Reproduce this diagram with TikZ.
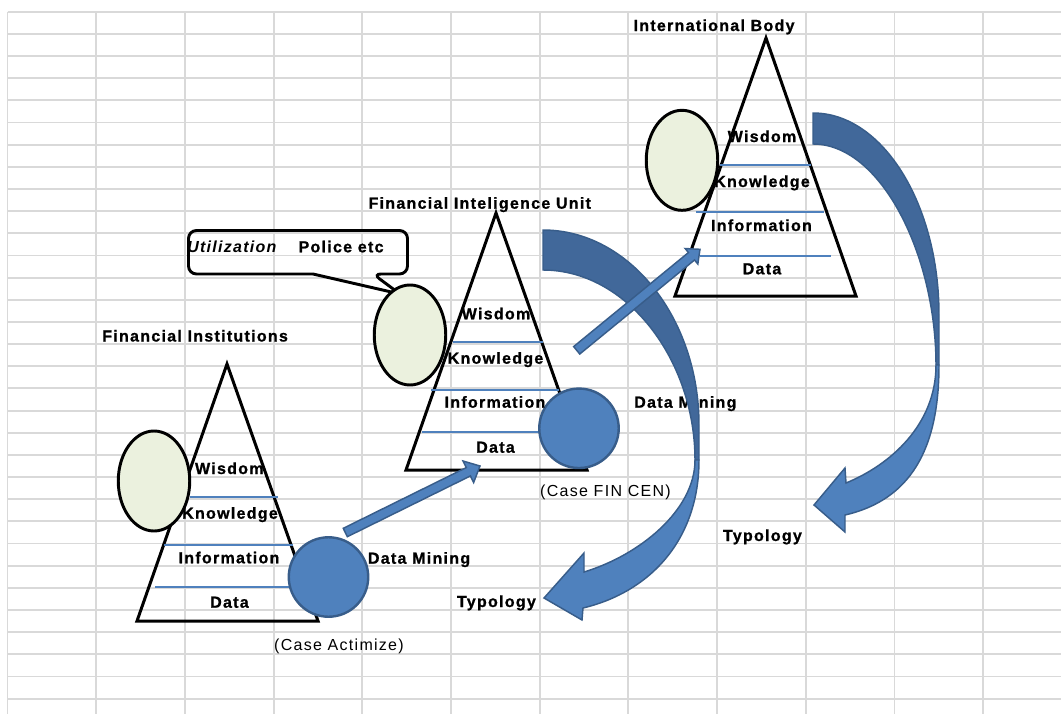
\documentclass[tikz,border=0pt]{standalone}
\usepackage{fontspec}
\setmainfont{Liberation Sans}[LetterSpace=8, BoldFeatures={FakeBold=1}]
\usetikzlibrary{shapes.geometric,calc}
\definecolor{gridc}{HTML}{D9D9D9}
\definecolor{ablue}{HTML}{4F81BD}
\definecolor{aborder}{HTML}{385D8A}
\definecolor{adark}{HTML}{41689A}
\definecolor{efill}{HTML}{EBF1DE}
\newcommand\blockarrow[5]{%
  \coordinate (#1-b) at ($(#2)!#5!(#1)$);
  \filldraw[barrow] ($(#1)!#3!90:(#2)$) -- ($(#1-b)!#3!90:(#2)$) -- ($(#1-b)!#4!90:(#2)$) -- (#2)
     -- ($(#1-b)!#4!-90:(#2)$) -- ($(#1-b)!#3!-90:(#2)$) -- ($(#1)!#3!-90:(#2)$) -- cycle;}
\tikzset{
  gridline/.style={draw=gridc, line width=1.4pt},
  pyr/.style={draw=black, line width=2.25pt, line join=miter},
  level/.style={draw=ablue, line width=1.3pt},
  oval/.style={ellipse, draw=black, fill=efill, line width=2.2pt, minimum width=53.6pt, minimum height=75pt, inner sep=0pt},
  dot/.style={circle, draw=aborder, fill=ablue, line width=1.8pt, minimum size=59.6pt, inner sep=0pt},
  lbl/.style={font=\bfseries\fontsize{12}{14}\selectfont, inner sep=0pt, anchor=base},
  lblw/.style={lbl, anchor=base west},
  note/.style={font=\fontsize{12}{14}\selectfont, inner sep=0pt, anchor=base},
  barrow/.style={draw=aborder, fill=ablue, line width=1.1pt, line join=miter},
  bback/.style={draw=aborder, fill=adark, line width=1.1pt},
  callout/.style={draw=black, line width=2.2pt},
}
\begin{document}
\begin{tikzpicture}[x=0.75pt,y=-0.75pt]
\useasboundingbox (0,0) rectangle (1061,714);
% spreadsheet grid
\foreach \i in {0,...,11} \draw[gridline] ({7.5+88.7*\i},11.7) -- ({7.5+88.7*\i},714);
\foreach \j in {0,...,31} \draw[gridline] (7.5,{11.7+22.16*\j}) -- (1061,{11.7+22.16*\j});

% pyramid 1 : Financial Institutions
\coordinate (p1t) at (227,364); \coordinate (p1l) at (137,621); \coordinate (p1r) at (318,621);
\draw[pyr] (p1t) -- (p1r) -- (p1l) -- cycle;
\draw[level] (190,497) -- (278,497);
\draw[level] (164,545) -- (293,545);
\draw[level] (155,587) -- (310,587);
% pyramid 2 : FIU
\coordinate (p2t) at (496,213); \coordinate (p2l) at (406,470); \coordinate (p2r) at (587,470);
\draw[pyr] (p2t) -- (p2r) -- (p2l) -- cycle;
\draw[level] (452.7,341.7) -- (543.3,341.7);
\draw[level] (430.7,390) -- (559,390);
\draw[level] (421.7,432.3) -- (578,432.3);
% pyramid 3 : International Body
\coordinate (p3t) at (766,38); \coordinate (p3l) at (675,296); \coordinate (p3r) at (856,296);
\draw[pyr] (p3t) -- (p3r) -- (p3l) -- cycle;
\draw[level] (720,165) -- (811,165);
\draw[level] (696,212.3) -- (824.3,212.3);
\draw[level] (700,255.7) -- (830.7,255.7);

% callout
\draw[callout] (313,274) [rounded corners=6pt] -- (188.5,274) -- (188.5,230.5) -- (407.5,230.5) -- (407.5,274) -- (373,274) [sharp corners] -- (400,294) -- cycle;
\node[lblw, font=\bfseries\itshape\fontsize{12}{14}\selectfont] (util) at (187,252.3) {Utilization};
\node[lblw] (police) at (298.3,252.3) {Police etc};

% ellipses
\node[oval] (e1) at (154,481) {};
\node[oval] (e2) at (410,335) {};
\node[oval] (e3) at (682,160.3) {};
% circles
\node[dot] (c1) at (328.5,577) {};
\node[dot] (c2) at (579,428.3) {};

% labels pyramid 1
\node[lblw] (t1) at (102,341.5) {Financial Institutions};
\node[lbl] (w1) at (229.3,474) {Wisdom};
\node[lbl] (k1) at (230,518.7) {Knowledge};
\node[lbl] (i1) at (229,563.3) {Information};
\node[lbl] (d1) at (229.5,607.7) {Data};
% labels pyramid 2
\node[lblw] (t2) at (368.3,208.7) {Financial Inteligence Unit};
\node[lbl] (w2) at (496,319.3) {Wisdom};
\node[lbl] (k2) at (495.5,363.7) {Knowledge};
\node[lbl] (i2) at (495,407.7) {Information};
\node[lbl] (d2) at (495.5,452.7) {Data};
% labels pyramid 3
\node[lblw] (t3) at (633.3,31) {International Body};
\node[lbl] (w3) at (762,142) {Wisdom};
\node[lbl] (k3) at (762,187) {Knowledge};
\node[lbl] (i3) at (761.5,231) {Information};
\node[lbl] (d3) at (762,274.3) {Data};
% other labels
\node[lblw] (dm1) at (367.7,563.7) {Data Mining};
\node[lblw] (dm2) at (634,407.7) {Data Mining};
\node[note] (ca1) at (339,650) {(Case Actimize)};
\node[note] (ca2) at (605.5,496) {(Case FIN CEN)};
\node[lblw] (ty1) at (456.7,607) {Typology};
\node[lblw] (ty2) at (722.7,541) {Typology};

% straight arrow 1 : FI -> FIU
\coordinate (a1s) at (345.3,532.5);
\coordinate (a1e) at (480,466);
\blockarrow{a1s}{a1e}{3.5pt}{9pt}{9.75pt}

% curved arrow 1 (FIU -> Typology)
\path[bback] (543,230) .. controls (629,230) and (699,318) .. (699,425) -- (699,460)
  -- (695,460) .. controls (695,360) and (627,270) .. (543,270) -- cycle;
\path[barrow] (699,460) .. controls (699,540) and (650,592) .. (583,608)
  -- (582,620) -- (544,598) -- (584,553) -- (584,572)
  .. controls (640,555) and (695,510) .. (695,460) -- cycle;

% straight arrow 2 : FIU -> International Body
\coordinate (a2s) at (576.7,350.3);
\coordinate (a2e) at (700,249.3);
\blockarrow{a2s}{a2e}{3.6pt}{7.5pt}{8.25pt}

% curved arrow 2 (International Body -> Typology)
\path[bback] (813,113) .. controls (882.6,113) and (939,204) .. (939,315) -- (939,365)
  -- (936,365) .. controls (936,255) and (881,144) .. (813,144) -- cycle;
\path[barrow] (939,365) .. controls (939,450) and (910,500) .. (845,515)
  -- (845,532) -- (814,505) -- (845,468) -- (846,483)
  .. controls (890,465) and (936,425) .. (936,365) -- cycle;
\end{tikzpicture}
\end{document}
